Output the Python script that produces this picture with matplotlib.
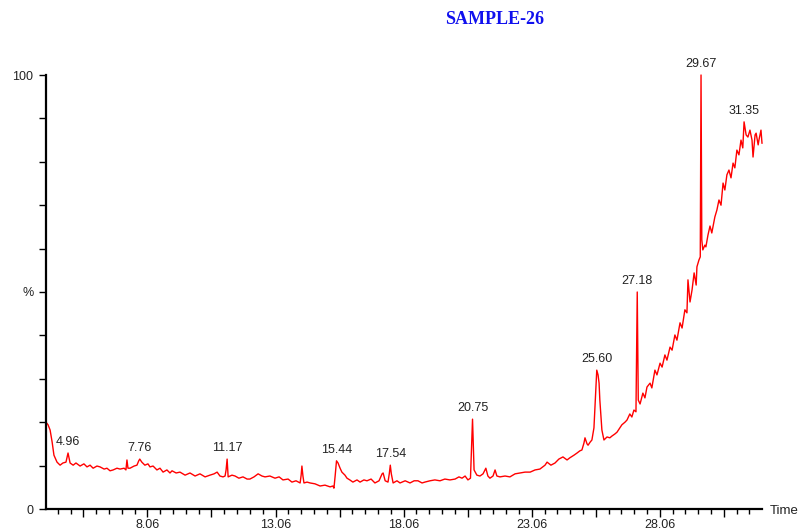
import numpy as np
import matplotlib.pyplot as plt
from matplotlib.ticker import FixedLocator, NullFormatter

# retention time (min) and relative abundance (%) of the TIC trace
time_min = np.array([
    4.10, 4.18, 4.26, 4.34, 4.41, 4.53, 4.65, 4.76, 4.88, 4.96, 5.04, 5.16, 5.27, 5.43, 5.58,
    5.70, 5.82, 5.94, 6.09, 6.21, 6.37, 6.48, 6.60, 6.72, 6.87, 6.99, 7.15, 7.22, 7.26, 7.30,
    7.38, 7.54, 7.65, 7.72, 7.76, 7.84, 7.96, 8.08, 8.16, 8.28, 8.43, 8.55, 8.67, 8.82, 8.94,
    9.02, 9.18, 9.33, 9.53, 9.72, 9.92, 10.11, 10.31, 10.50, 10.66, 10.78, 10.89, 11.01, 11.09,
    11.13, 11.17, 11.21, 11.36, 11.48, 11.63, 11.79, 11.95, 12.06, 12.22, 12.38, 12.53, 12.65,
    12.84, 13.04, 13.20, 13.35, 13.55, 13.70,
    13.86, 14.02, 14.06, 14.09, 14.13, 14.17, 14.29, 14.41, 14.60, 14.80, 14.99, 15.19, 15.30,
    15.34, 15.39, 15.44, 15.50, 15.58, 15.65, 15.77, 15.85, 15.96, 16.08, 16.24, 16.36, 16.51,
    16.63, 16.79, 16.94, 17.10, 17.22, 17.26, 17.34, 17.45, 17.50, 17.54, 17.58, 17.65, 17.80,
    17.92, 18.12, 18.31, 18.47, 18.62,
    18.78, 18.89, 19.09, 19.28, 19.48, 19.67, 19.87, 20.07, 20.22, 20.34, 20.46, 20.57, 20.67,
    20.75, 20.81, 20.92, 21.04, 21.16, 21.27, 21.35, 21.43, 21.55, 21.63, 21.70, 21.82, 22.02,
    22.21, 22.41, 22.60, 22.80, 23.00, 23.19, 23.38, 23.58,
    23.66, 23.81, 23.97, 24.12, 24.28, 24.44, 24.55, 24.71, 24.83, 24.94, 25.02, 25.10, 25.14,
    25.22, 25.26, 25.34, 25.41, 25.49, 25.56, 25.60, 25.65, 25.69, 25.72, 25.76, 25.80, 25.88,
    26.00, 26.11, 26.19, 26.31, 26.39, 26.50, 26.58, 26.70, 26.78, 26.89, 26.97, 27.05, 27.13,
    27.18, 27.22, 27.29, 27.40, 27.48, 27.56, 27.68, 27.75, 27.87, 27.95, 28.07, 28.15, 28.26,
    28.34, 28.46, 28.54, 28.65, 28.73, 28.85, 28.93, 29.04, 29.12, 29.16, 29.24, 29.32, 29.40,
    29.48, 29.51, 29.59, 29.64, 29.67, 29.70, 29.74, 29.82, 29.86, 29.94, 30.02, 30.09, 30.21,
    30.29, 30.37, 30.45, 30.53, 30.60, 30.68, 30.76, 30.84, 30.92, 30.99, 31.07, 31.15, 31.23,
    31.30, 31.35, 31.43, 31.50, 31.58, 31.66, 31.70, 31.78, 31.82, 31.90, 31.93, 32.01, 32.05,
])
abundance = np.array([
    20.0, 19.4, 18.2, 15.4, 12.4, 10.8, 10.1, 10.6, 10.8, 12.9, 10.6, 10.1, 10.6, 9.9, 10.4,
    9.7, 10.1, 9.4, 9.9, 9.7, 9.2, 9.4, 8.8, 9.0, 9.4, 9.2, 9.4, 9.0, 11.3, 9.4,
    9.4, 9.9, 10.1, 11.1, 11.5, 10.8, 10.1, 10.4, 9.7, 9.9, 9.0, 9.4, 8.5, 9.0, 8.3,
    8.8, 8.3, 8.5, 7.8, 8.3, 7.6, 8.1, 7.4, 7.8, 8.1, 8.5, 7.6, 7.4, 7.6,
    9.0, 11.5, 7.4, 7.8, 7.6, 7.1, 7.4, 6.9, 6.9, 7.4, 8.1, 7.6, 7.4,
    7.6, 7.1, 7.4, 6.7, 6.9, 6.2,
    6.5, 6.0, 7.8, 9.9, 7.6, 6.0, 6.2, 6.0, 5.8, 5.3, 5.5, 5.1, 5.3,
    4.8, 7.8, 11.1, 10.6, 9.4, 8.5, 7.8, 7.1, 6.7, 6.2, 6.7, 6.2, 6.7,
    6.5, 6.9, 6.0, 6.5, 8.1, 8.3, 6.5, 6.2, 8.1, 10.1, 8.1, 6.0, 6.5,
    6.0, 6.5, 6.0, 6.5, 6.5,
    6.0, 6.2, 6.5, 6.7, 6.5, 6.9, 6.7, 6.9, 7.4, 7.1, 7.6, 6.7, 7.1,
    20.7, 9.0, 7.8, 7.6, 8.1, 9.4, 7.6, 7.1, 7.6, 9.0, 7.6, 7.4, 7.6,
    7.4, 8.1, 8.3, 8.5, 8.5, 9.0, 9.2, 10.1,
    10.8, 10.1, 10.6, 11.5, 12.0, 11.3, 11.8, 12.4, 12.9, 13.4, 13.6, 15.2, 16.4,
    15.0, 14.7, 15.4, 15.9, 18.7, 27.4, 32.0, 30.9, 29.0, 25.1, 21.7, 18.2, 15.9,
    16.6, 16.4, 16.8, 17.3, 17.7, 18.7, 19.4, 20.0, 20.5, 21.9, 21.2, 22.8, 22.4,
    50.0, 25.1, 24.2, 26.7, 25.6, 28.1, 29.0, 27.9, 32.0, 30.9, 33.6, 32.7, 35.5,
    34.3, 37.3, 36.6, 40.1, 38.9, 42.9, 41.7, 45.9, 45.2, 52.8, 47.7, 50.5, 54.4,
    51.6, 55.8, 57.4, 58.1, 100.0, 62.0, 59.7, 60.8, 60.4, 63.1, 65.2, 63.6, 67.3,
    68.9, 71.2, 70.0, 75.1, 73.5, 77.0, 78.1, 76.3, 79.7, 78.6, 82.7, 81.6, 85.0,
    83.2, 89.2, 86.2, 85.7, 87.3, 85.0, 81.1, 86.2, 86.6, 83.9, 85.0, 87.3, 84.3,
])

# labelled peaks
peak_times = [4.96, 7.76, 11.17, 15.44, 17.54, 20.75, 25.60, 27.18, 29.67, 31.35]
peak_labels = ["4.96", "7.76", "11.17", "15.44", "17.54", "20.75", "25.60", "27.18", "29.67", "31.35"]

x_tick_values = [8.06, 13.06, 18.06, 23.06, 28.06]
x_tick_labels = ["8.06", "13.06", "18.06", "23.06", "28.06"]

plt.rcParams['font.family'] = ['Liberation Sans', 'DejaVu Sans']

fig = plt.figure(figsize=(8, 5.32), dpi=100)
ax = fig.add_axes([46 / 800, 23 / 532, 716 / 800, 434 / 532])

ax.plot(time_min, abundance, color='#ff0000', linewidth=1.0, clip_on=False)

for t, lab in zip(peak_times, peak_labels):
    h = abundance[np.argmin(np.abs(time_min - t))]
    ax.annotate(lab, (t, h), xytext=(0, 3.5), textcoords='offset points',
                ha='center', va='bottom', fontsize=9, color='#222222')

ax.set_xlim(4.10, 32.05)
ax.set_ylim(0, 100)

for side in ['top', 'right']:
    ax.spines[side].set_visible(False)
for side in ['left', 'bottom']:
    ax.spines[side].set_linewidth(1.6)
    ax.spines[side].set_color('black')

# x ticks: long every 2.5 min (labelled every 5), short every 0.5 min
long_ticks = np.round(np.arange(5.56, 32.0, 2.5), 2)
short_ticks = np.arange(4.56, 32.0, 0.5)
label_for = dict(zip(x_tick_values, x_tick_labels))
ax.set_xticks(long_ticks)
ax.set_xticklabels([label_for.get(float(v), '') for v in long_ticks])
ax.xaxis.set_minor_locator(FixedLocator(short_ticks))
ax.xaxis.set_minor_formatter(NullFormatter())
ax.tick_params(axis='x', which='major', length=6, width=1, pad=1.5, labelsize=9,
               labelcolor='#222222')
ax.tick_params(axis='x', which='minor', length=3.5, width=1)

y_ticks = list(range(0, 101, 10))
y_labels = {0: '0', 50: '%', 100: '100'}
ax.set_yticks(y_ticks)
ax.set_yticklabels([y_labels.get(v, '') for v in y_ticks])
ax.tick_params(axis='y', which='major', length=5, width=1, pad=4, labelsize=9,
               labelcolor='#222222')

fig.text(770 / 800, 1 - 511 / 532, 'Time', fontsize=9.5, color='#222222',
         ha='left', va='center')
fig.text(495 / 800, 1 - 20 / 532, 'SAMPLE-26', fontsize=13, fontweight='bold',
         family='Liberation Serif', color='#1010ee', ha='center', va='center')

fig.savefig('out.png', dpi=100)
